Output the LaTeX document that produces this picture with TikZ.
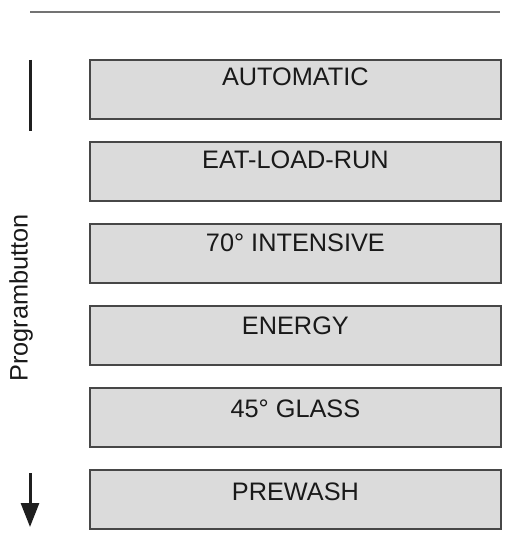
\documentclass[tikz,border=0pt]{standalone}
\usepackage{fontspec}
\setmainfont{Liberation Sans}
\usetikzlibrary{arrows.meta}
\begin{document}
\begin{tikzpicture}[x=1pt,y=-1pt,
  progbox/.style={draw=black!72,line width=1.8pt,fill=black!14,minimum width=411pt,minimum height=59pt,inner sep=0pt,anchor=north west},
  boxtext/.style={font=\fontsize{25.3}{29}\selectfont,inner sep=0pt,anchor=center,text=black!90}]
\useasboundingbox (0,0) rectangle (504,534);
\coordinate (ls) at (30,12);
\coordinate (le) at (500,12);
\draw[black!55,line width=1.8pt] (ls) -- (le);
\foreach \i/\t in {0/AUTOMATIC,1/EAT-LOAD-RUN,2/70° INTENSIVE,3/ENERGY,4/45° GLASS,5/PREWASH}{
  \node[progbox] (b\i) at (89,59+82*\i) {};
  \node[boxtext] (t\i) at ([yshift={-(18+\i)*1pt}]b\i.north) {\t};
}
\coordinate (bs) at (30,60);
\coordinate (be) at (30,131);
\draw[black!88,line width=3pt] (bs) -- (be);
\coordinate (as) at (30,473);
\coordinate (ae) at (30,527);
\draw[black!88,line width=3pt,-{Triangle[width=18pt,length=24pt]}] (as) -- (ae);
\node[font=\fontsize{25.3}{29}\selectfont,rotate=90,inner sep=0pt,text=black!90] (lab) at (21,298) {Programbutton};
\end{tikzpicture}
\end{document}
